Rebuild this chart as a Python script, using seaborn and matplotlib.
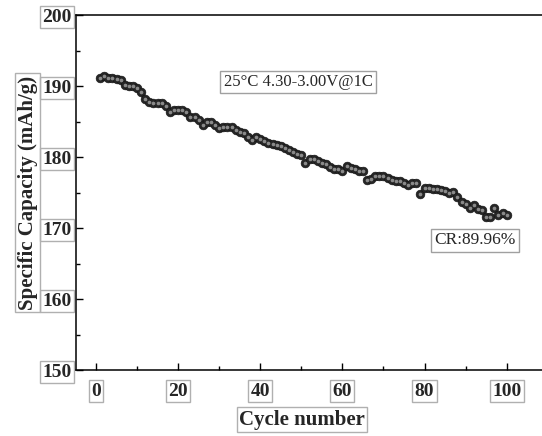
"""Cycling performance: specific capacity vs cycle number at 1C."""

import matplotlib

matplotlib.use("Agg")
import matplotlib.pyplot as plt
import numpy as np
import pandas as pd
import seaborn as sns
from matplotlib.ticker import MultipleLocator

cycles = list(range(1, 101))
capacity = [
    191.1, 191.5, 191.2, 191.1, 191.0, 190.9, 190.2, 190.1, 190.1, 189.7,
    189.2, 188.2, 187.8, 187.6, 187.6, 187.6, 187.2, 186.4, 186.7, 186.7,
    186.7, 186.4, 185.7, 185.6, 185.2, 184.5, 184.9, 184.9, 184.5, 184.1,
    184.2, 184.2, 184.2, 183.9, 183.6, 183.4, 182.9, 182.4, 182.8, 182.6,
    182.3, 182.0, 181.8, 181.7, 181.6, 181.3, 181.0, 180.8, 180.5, 180.3,
    179.2, 179.8, 179.7, 179.5, 179.2, 179.0, 178.6, 178.4, 178.4, 178.1,
    178.8, 178.5, 178.3, 178.1, 178.0, 176.8, 176.9, 177.3, 177.4, 177.3,
    177.0, 176.8, 176.6, 176.6, 176.4, 176.1, 176.4, 176.3, 174.8, 175.6,
    175.6, 175.5, 175.5, 175.4, 175.3, 175.0, 175.1, 174.4, 173.7, 173.4,
    172.8, 173.3, 172.7, 172.5, 171.5, 171.6, 172.8, 171.9, 172.2, 171.9,
]
x_ticks = [0, 20, 40, 60, 80, 100]
y_ticks = [150, 160, 170, 180, 190, 200]
condition_text = "25°C 4.30-3.00V@1C"
retention_text = "CR:89.96%"

df = pd.DataFrame({"cycle": cycles, "capacity": capacity})

sns.set_style("ticks")
plt.rcParams["font.family"] = ["Liberation Serif", "DejaVu Serif"]

W, H = 542, 436
fig = plt.figure(figsize=(W / 100, H / 100), dpi=100)
ax_left, ax_right, ax_top, ax_bottom = 76, 542, 15.3, 370
ax = fig.add_axes([
    ax_left / W,
    (H - ax_bottom) / H,
    (ax_right - ax_left) / W,
    (ax_bottom - ax_top) / H,
])

# shaded sphere look: dark disc plus a lighter inner highlight
sns.scatterplot(data=df, x="cycle", y="capacity", ax=ax, s=40,
                color="#262626", edgecolor="#111111", linewidth=0.4,
                legend=False, zorder=3)
sns.scatterplot(data=df, x="cycle", y="capacity", ax=ax, s=7,
                color="#8a8a8a", linewidth=0, legend=False, zorder=4)

ax.set_xlim(-4.87, 108.6)
ax.set_ylim(150, 200)
ax.set_xticks(x_ticks)
ax.set_yticks(y_ticks)
ax.xaxis.set_minor_locator(MultipleLocator(10))
ax.yaxis.set_minor_locator(MultipleLocator(5))
ax.tick_params(which="major", direction="in", length=5, width=1,
               labelsize=14, color="black")
ax.tick_params(which="minor", direction="in", length=3, width=1,
               color="black")
ax.tick_params(axis="x", which="major", pad=9)
ax.tick_params(axis="y", which="major", pad=3)

for side in ["left", "bottom", "top"]:
    ax.spines[side].set_linewidth(1.1)
    ax.spines[side].set_color("black")
ax.spines["right"].set_visible(False)

box = dict(boxstyle="square,pad=0.12", facecolor="white",
           edgecolor="#b0b0b0", linewidth=1)
for lbl in ax.get_xticklabels() + ax.get_yticklabels():
    lbl.set_fontweight("bold")
    lbl.set_bbox(box)

ax.set_xlabel("Cycle number", fontsize=15, fontweight="bold", bbox=box)
ax.set_ylabel("Specific Capacity (mAh/g)", fontsize=15, fontweight="bold",
              bbox=dict(box, facecolor="none"))
ax.xaxis.set_label_coords(0.485, -0.112)
ax.yaxis.set_label_coords(-0.082, 0.5)

ax.text(49.2, 190.6, condition_text, fontsize=12, ha="center", va="center",
        bbox=dict(boxstyle="square,pad=0.2", facecolor="white",
                  edgecolor="#a0a0a0", linewidth=1))
ax.text(92.3, 168.3, retention_text, fontsize=12.5, ha="center",
        va="center",
        bbox=dict(boxstyle="square,pad=0.2", facecolor="white",
                  edgecolor="#a0a0a0", linewidth=1))

fig.savefig("out.png", dpi=100)
plt.close(fig)
